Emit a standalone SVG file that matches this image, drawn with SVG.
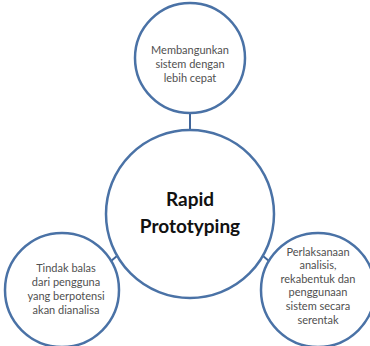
<svg xmlns="http://www.w3.org/2000/svg" width="370" height="346" viewBox="0 0 370 346">
<style>
.c{fill:#fff;stroke:#4a72a6;stroke-width:2.5}
.l{stroke:#41669a;stroke-width:2}
.s{font-family:Lato,"Open Sans",sans-serif;font-size:11px;fill:#505050;text-anchor:middle}
.m{font-family:Lato,"Open Sans",sans-serif;font-size:19px;font-weight:bold;fill:#111;text-anchor:middle}
</style>
<rect width="370" height="346" fill="#fff"/>
<g id="connectors">
<line class="l" x1="190" y1="113" x2="190" y2="129"/>
<line class="l" x1="117" y1="256" x2="111" y2="261"/>
<line class="l" x1="263" y1="256" x2="269" y2="261"/>
</g>
<g id="top">
<circle class="c" cx="190" cy="58" r="55"/>
<text class="s"><tspan x="190" y="54">Membangunkan</tspan><tspan x="190" y="68">sistem dengan</tspan><tspan x="190" y="82">lebih cepat</tspan></text>
</g>
<g id="center">
<circle class="c" cx="190" cy="214" r="84"/>
<text class="m"><tspan x="190" y="206">Rapid</tspan><tspan x="190" y="233">Prototyping</tspan></text>
</g>
<g id="left">
<circle class="c" cx="62" cy="290" r="57"/>
<text class="s"><tspan x="66" y="272">Tindak balas</tspan><tspan x="66" y="286">dari pengguna</tspan><tspan x="66" y="300">yang berpotensi</tspan><tspan x="66" y="314">akan dianalisa</tspan></text>
</g>
<g id="right">
<circle class="c" cx="318" cy="290" r="57"/>
<text class="s"><tspan x="318" y="256">Perlaksanaan</tspan><tspan x="318" y="269">analisis,</tspan><tspan x="318" y="283">rekabentuk dan</tspan><tspan x="318" y="296">penggunaan</tspan><tspan x="318" y="310">sistem secara</tspan><tspan x="318" y="324">serentak</tspan></text>
</g>
</svg>
